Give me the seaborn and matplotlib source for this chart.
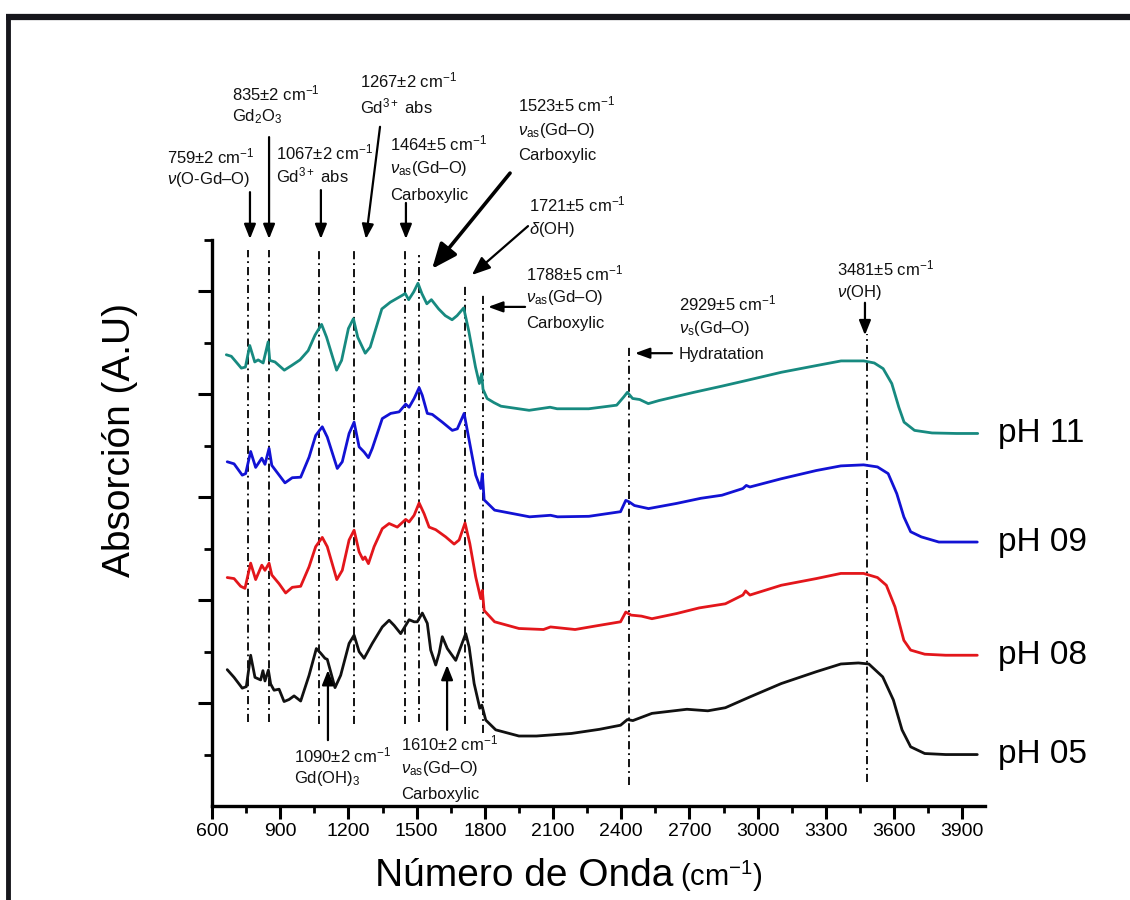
import matplotlib
matplotlib.use("Agg")
import matplotlib.pyplot as plt
import matplotlib.lines as mlines
import numpy as np
import pandas as pd
import seaborn as sns

# ---------------------------------------------------------------------------
# FTIR spectra of Gd samples synthesised at different pH (offset for clarity)
# ---------------------------------------------------------------------------
wn_ph11 = [663, 685, 729, 747, 766, 788, 803, 825, 847, 854,
           877, 918, 950, 987, 1023, 1053, 1082, 1104, 1148, 1170,
           1200, 1222, 1241, 1274, 1296, 1347, 1384, 1435, 1450, 1465,
           1487, 1506, 1523, 1545, 1565, 1597, 1626, 1656, 1678, 1707,
           1729, 1759, 1776, 1786, 1792, 1810, 1840, 1871, 1995, 2087,
           2118, 2257, 2380, 2411, 2427, 2450, 2481, 2519, 2566, 2720,
           2843, 2951, 3105, 3259, 3367, 3467, 3513, 3552, 3590, 3621,
           3644, 3690, 3767, 3875, 3968]
abs_ph11 = [8.77, 8.74, 8.51, 8.53, 8.95, 8.63, 8.67, 8.61, 9.02, 8.66,
            8.63, 8.47, 8.56, 8.67, 8.85, 9.15, 9.36, 9.11, 8.47, 8.66,
            9.28, 9.47, 9.11, 8.80, 8.92, 9.66, 9.79, 9.92, 9.96, 9.84,
            9.99, 10.16, 9.96, 9.76, 9.84, 9.66, 9.53, 9.45, 9.53, 9.68,
            9.24, 8.53, 8.21, 8.40, 8.10, 7.92, 7.84, 7.77, 7.69, 7.75,
            7.72, 7.72, 7.79, 7.95, 8.04, 7.92, 7.90, 7.82, 7.88, 8.04,
            8.16, 8.27, 8.43, 8.56, 8.65, 8.65, 8.61, 8.50, 8.21, 7.75,
            7.46, 7.30, 7.25, 7.24, 7.24]

wn_ph09 = [667, 697, 733, 748, 770, 792, 819, 833, 851, 863,
           880, 921, 953, 990, 1027, 1056, 1085, 1107, 1151, 1173,
           1203, 1225, 1247, 1269, 1288, 1305, 1349, 1386, 1423, 1452,
           1467, 1489, 1511, 1525, 1547, 1569, 1613, 1657, 1679, 1709,
           1731, 1760, 1782, 1789, 1797, 1843, 1997, 2089, 2120, 2258,
           2397, 2420, 2435, 2458, 2520, 2643, 2750, 2843, 2935, 2950,
           2966, 3104, 3258, 3366, 3466, 3527, 3574, 3612, 3643, 3673,
           3720, 3797, 3966]
abs_ph09 = [6.69, 6.65, 6.43, 6.46, 6.89, 6.58, 6.76, 6.64, 6.95, 6.62,
            6.52, 6.28, 6.38, 6.39, 6.78, 7.20, 7.37, 7.17, 6.56, 6.69,
            7.24, 7.46, 6.98, 6.88, 6.77, 6.95, 7.53, 7.63, 7.66, 7.81,
            7.75, 7.92, 8.13, 7.98, 7.63, 7.61, 7.46, 7.30, 7.33, 7.63,
            7.11, 6.43, 6.17, 6.46, 5.95, 5.75, 5.62, 5.65, 5.62, 5.63,
            5.72, 5.94, 5.91, 5.84, 5.78, 5.88, 5.98, 6.04, 6.17, 6.23,
            6.20, 6.36, 6.52, 6.61, 6.63, 6.59, 6.46, 6.07, 5.62, 5.33,
            5.23, 5.13, 5.13]

wn_ph08 = [667, 697, 726, 745, 770, 792, 819, 833, 851, 863,
           895, 924, 953, 990, 1027, 1056, 1085, 1107, 1149, 1173,
           1203, 1225, 1247, 1264, 1273, 1288, 1313, 1349, 1379, 1415,
           1452, 1467, 1489, 1511, 1533, 1555, 1584, 1628, 1665, 1687,
           1713, 1734, 1760, 1782, 1789, 1797, 1843, 1950, 2058, 2089,
           2197, 2289, 2397, 2420, 2443, 2489, 2535, 2643, 2743, 2858,
           2935, 2947, 2966, 3104, 3258, 3366, 3466, 3527, 3566, 3604,
           3643, 3673, 3735, 3827, 3966]
abs_ph08 = [4.44, 4.42, 4.27, 4.23, 4.72, 4.40, 4.68, 4.58, 4.72, 4.49,
            4.32, 4.14, 4.25, 4.27, 4.65, 5.04, 5.22, 5.04, 4.40, 4.58,
            5.17, 5.36, 4.94, 4.79, 4.84, 4.71, 5.04, 5.39, 5.49, 5.42,
            5.57, 5.52, 5.65, 5.89, 5.68, 5.42, 5.37, 5.23, 5.09, 5.17,
            5.50, 5.10, 4.45, 4.03, 4.19, 3.80, 3.58, 3.45, 3.43, 3.48,
            3.43, 3.50, 3.58, 3.77, 3.71, 3.69, 3.64, 3.74, 3.85, 3.93,
            4.10, 4.18, 4.10, 4.29, 4.42, 4.52, 4.52, 4.44, 4.29, 3.87,
            3.22, 3.03, 2.95, 2.93, 2.93]

wn_ph05 = [667, 697, 733, 751, 770, 789, 814, 824, 833, 848,
           858, 873, 895, 917, 939, 961, 990, 1027, 1059, 1078,
           1097, 1107, 1141, 1166, 1203, 1225, 1247, 1269, 1305, 1349,
           1379, 1401, 1430, 1452, 1467, 1489, 1503, 1525, 1547, 1562,
           1584, 1599, 1613, 1635, 1672, 1716, 1731, 1753, 1778, 1787,
           1804, 1848, 1950, 2027, 2181, 2304, 2397, 2427, 2451, 2535,
           2689, 2781, 2858, 2966, 3104, 3258, 3366, 3443, 3489, 3550,
           3597, 3635, 3673, 3735, 3827, 3966]
abs_ph05 = [2.65, 2.50, 2.29, 2.32, 2.93, 2.50, 2.45, 2.63, 2.43, 2.64,
            2.37, 2.25, 2.27, 2.03, 2.07, 2.14, 2.04, 2.54, 3.06, 2.97,
            2.87, 2.85, 2.30, 2.54, 3.16, 3.32, 3.00, 2.87, 3.16, 3.48,
            3.61, 3.51, 3.35, 3.51, 3.62, 3.58, 3.58, 3.75, 3.55, 3.03,
            2.74, 2.97, 3.29, 3.06, 2.83, 3.35, 3.09, 2.38, 1.90, 1.96,
            1.67, 1.48, 1.36, 1.36, 1.41, 1.49, 1.57, 1.68, 1.66, 1.80,
            1.88, 1.85, 1.91, 2.12, 2.38, 2.61, 2.76, 2.78, 2.76, 2.51,
            2.06, 1.48, 1.15, 1.02, 1.00, 1.00]

sample_labels = ["pH 11", "pH 09", "pH 08", "pH 05"]
sample_colors = ["#178a80", "#1212d4", "#e3161b", "#111111"]

# band markers (dash-dot guides): position, lower and upper end
band_positions = [759, 850, 1070, 1225, 1450, 1510, 1712, 1790, 2435, 3481]
band_bottoms = [1.63, 1.63, 1.59, 1.59, 1.59, 1.63, 1.59, 1.42, 0.41, 0.47]
band_tops = [10.80, 10.80, 10.80, 10.80, 10.80, 10.70, 10.16, 9.97, 8.95, 9.18]

x_ticks = list(range(600, 4000, 300))

# ---------------------------------------------------------------------------
spectra = pd.concat([
    pd.DataFrame({"wn": wn, "absorb": ab, "sample": lab})
    for wn, ab, lab in zip([wn_ph11, wn_ph09, wn_ph08, wn_ph05],
                           [abs_ph11, abs_ph09, abs_ph08, abs_ph05],
                           sample_labels)
], ignore_index=True)

sns.set_theme(style="ticks")
plt.rcParams["font.family"] = ["Liberation Sans", "DejaVu Sans"]
plt.rcParams["mathtext.fontset"] = "custom"
plt.rcParams["mathtext.rm"] = "Liberation Sans"
plt.rcParams["mathtext.it"] = "Liberation Sans:italic"
plt.rcParams["mathtext.bf"] = "Liberation Sans:bold"
plt.rcParams["text.color"] = "black"
plt.rcParams["xtick.color"] = "black"
plt.rcParams["ytick.color"] = "black"
plt.rcParams["xtick.labelcolor"] = "black"

fig = plt.figure(figsize=(11.3, 9), dpi=100)
fig.patch.set_facecolor("white")
ax = fig.add_axes([212 / 1130, 94 / 900, 773 / 1130, 566 / 900])

sns.lineplot(data=spectra, x="wn", y="absorb", hue="sample",
             hue_order=sample_labels,
             palette=dict(zip(sample_labels, sample_colors)),
             sort=False, estimator=None, legend=False, linewidth=2.0, ax=ax)

ax.vlines(band_positions, band_bottoms, band_tops, colors="black",
          linewidth=1.3, linestyles=[(0, (4.5, 2.2, 1.0, 2.2))], zorder=1)

# axes styling
ax.set_xlim(600, 4000)
ax.set_ylim(0, 11)
ax.set_xticks(x_ticks)
ax.set_xticks(np.arange(750, 4000, 300), minor=True)
ax.set_yticks([2, 4, 6, 8, 10])
ax.set_yticks([1, 3, 5, 7, 9, 11], minor=True)
ax.set_yticklabels([])
ax.tick_params(axis="x", which="major", length=9, width=2.2, labelsize=14,
               pad=3, colors="black")
ax.tick_params(axis="x", which="minor", length=5, width=2.0)
ax.tick_params(axis="y", which="major", length=10, width=2.2)
ax.tick_params(axis="y", which="minor", length=6, width=2.0)
for side in ("top", "right"):
    ax.spines[side].set_visible(False)
for side in ("left", "bottom"):
    ax.spines[side].set_linewidth(2.4)
    ax.spines[side].set_color("black")
ax.set_xlabel("")
ax.set_ylabel("")

# curve labels at the end of each spectrum
for ab, lab in zip([abs_ph11, abs_ph09, abs_ph08, abs_ph05], sample_labels):
    ax.text(4057, ab[-1], lab, fontsize=24, va="center", ha="left",
            color="black", clip_on=False)

# band assignments
fs = 12
nu_as = r"$\nu_{\mathregular{as}}$(Gd–O)"
notes = [
    (402, [(12.48, r"759±2 cm$^{-1}$"), (12.09, r"$\nu$(O-Gd–O)")]),
    (688, [(13.72, r"835±2 cm$^{-1}$"), (13.31, r"Gd$_2$O$_3$")]),
    (881, [(12.56, r"1067±2 cm$^{-1}$"), (12.11, r"Gd$^{3+}$ abs")]),
    (1251, [(13.97, r"1267±2 cm$^{-1}$"), (13.47, r"Gd$^{3+}$ abs")]),
    (1383, [(12.75, r"1464±5 cm$^{-1}$"), (12.30, nu_as),
            (11.78, "Carboxylic")]),
    (1946, [(13.49, r"1523±5 cm$^{-1}$"), (13.04, nu_as),
            (12.56, "Carboxylic")]),
    (1994, [(11.55, r"1721±5 cm$^{-1}$"), (11.12, r"$\delta$(OH)")]),
    (1981, [(10.22, r"1788±5 cm$^{-1}$"), (9.80, nu_as),
            (9.29, "Carboxylic")]),
    (2654, [(9.64, r"2929±5 cm$^{-1}$"), (9.19, r"$\nu_{\mathregular{s}}$(Gd–O)"),
            (8.69, "Hydratation")]),
    (3349, [(10.32, r"3481±5 cm$^{-1}$"), (9.89, r"$\nu$(OH)")]),
    (961, [(0.855, r"1090±2 cm$^{-1}$"), (0.44, r"Gd(OH)$_3$")]),
    (1431, [(1.09, r"1610±2 cm$^{-1}$"), (0.64, nu_as),
            (0.14, "Carboxylic")]),
]
for x0, lines in notes:
    for y0, txt in lines:
        ax.text(x0, y0, txt, fontsize=fs, ha="left", va="baseline",
                color="#111111", clip_on=False)

arrows = [
    ((767, 11.93), (767, 11.02), 1.6, 0.55, 0.22),
    ((851, 13.00), (851, 11.02), 1.6, 0.55, 0.22),
    ((1079, 11.97), (1079, 11.02), 1.6, 0.55, 0.22),
    ((1339, 13.20), (1277, 11.02), 1.6, 0.55, 0.22),
    ((1453, 11.72), (1453, 11.02), 1.6, 0.55, 0.22),
    ((1911, 12.30), (1568, 10.44), 2.6, 0.95, 0.40),
    ((1990, 11.27), (1743, 10.32), 1.6, 0.70, 0.28),
    ((1977, 9.70), (1814, 9.70), 1.6, 0.55, 0.20),
    ((2623, 8.80), (2460, 8.80), 1.6, 0.55, 0.20),
    ((3472, 9.78), (3472, 9.15), 1.6, 0.55, 0.22),
    ((1110, 1.28), (1110, 2.64), 1.6, 0.55, 0.22),
    ((1634, 1.48), (1634, 2.74), 1.6, 0.55, 0.22),
]
for start, tip, lw, hl, hw in arrows:
    ax.annotate("", xy=tip, xytext=start, annotation_clip=False,
                arrowprops=dict(arrowstyle=f"-|>,head_length={hl},head_width={hw}",
                                mutation_scale=16, lw=lw, color="black",
                                shrinkA=0, shrinkB=0))

# axis titles
fig.text(120 / 1130, 1 - 440 / 900, "Absorción (A.U)", rotation=90,
         fontsize=28, ha="center", va="center", color="black")
fig.text(375 / 1130, 1 - 886 / 900, "Número de Onda", fontsize=28,
         ha="left", va="baseline", color="black")
fig.text(680 / 1130, 1 - 886 / 900, r"(cm$^{\mathregular{-1}}$)", fontsize=21,
         ha="left", va="baseline", color="black")

# outer frame (top and left edges)
fig.add_artist(mlines.Line2D([6 / 1130, 1.0], [1 - 17 / 900, 1 - 17 / 900],
                             transform=fig.transFigure, color="#16161c",
                             lw=4.5, solid_capstyle="butt"))
fig.add_artist(mlines.Line2D([8 / 1130, 8 / 1130], [0.0, 1 - 15 / 900],
                             transform=fig.transFigure, color="#16161c",
                             lw=3.5, solid_capstyle="butt"))

fig.savefig("out.png", dpi=100, facecolor="white")
